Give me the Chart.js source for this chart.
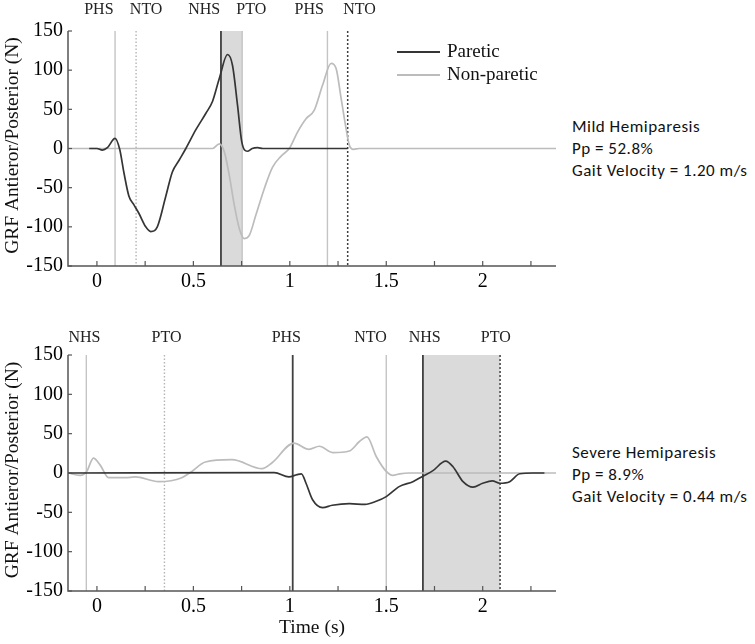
<!DOCTYPE html>
<html><head><meta charset="utf-8">
<script src="https://cdn.jsdelivr.net/npm/chart.js@4.4.1/dist/chart.umd.min.js"></script>
<style>
body{margin:0;background:#fff;width:755px;height:644px;overflow:hidden;position:relative}
.wrap{position:absolute;left:0;width:560px}
#w1{top:0;height:310px}
#w2{top:310px;height:334px}
.note{position:absolute;left:572px;font-family:Carlito, Lato, sans-serif;font-size:17px;line-height:22px;letter-spacing:0.5px;color:#111;white-space:nowrap}
</style></head><body>
<div class="wrap" id="w1"><canvas id="c1"></canvas></div>
<div class="wrap" id="w2"><canvas id="c2"></canvas></div>
<div class="note" style="top:116px">Mild Hemiparesis<br>Pp = 52.8%<br>Gait Velocity = 1.20 m/s</div>
<div class="note" style="top:442px">Severe Hemiparesis<br>Pp = 8.9%<br>Gait Velocity = 0.44 m/s</div>
<script>
// ---- data ----
const seriesNames = ['Paretic', 'Non-paretic'];
const xTicks = [0, 0.25, 0.5, 0.75, 1, 1.25, 1.5, 1.75, 2, 2.25];
const xTickLabels = ['0', '', '0.5', '', '1', '', '1.5', '', '2', ''];
const yTicks = [-150, -100, -50, 0, 50, 100, 150];

// Mild (top)
const topParT = [-0.04, 0.0, 0.028, 0.054, 0.094, 0.118, 0.140, 0.166, 0.192, 0.218, 0.253, 0.279, 0.313, 0.357, 0.391, 0.426, 0.461, 0.513, 0.565, 0.599, 0.634, 0.677, 0.703, 0.729, 0.751, 0.78, 0.805, 0.833, 0.86, 1.30];
const topParV = [0, 0, -2, 1, 13, -1, -31, -61, -72, -83, -100, -106, -100, -61, -30, -15, 0, 24, 45, 60, 89, 120, 106, 55, 8.5, -3.5, 0, 1, 0, 0];
const topNonT = [-0.15, 0.0, 0.3, 0.6, 0.634, 0.66, 0.686, 0.712, 0.738, 0.764, 0.79, 0.824, 0.868, 0.91, 0.954, 0.997, 1.04, 1.084, 1.127, 1.17, 1.214, 1.24, 1.266, 1.292, 1.309, 1.33, 1.36, 2.38];
const topNonV = [0, 0, 0, 0, 6, -4, -34, -72, -102, -115, -111, -85, -51, -24, -10, 0, 21, 38, 49, 81, 108.6, 102, 64, 25, 4, -1, 0, 0];
const topEventT = [0.094, 0.203, 0.643, 0.753, 1.195, 1.30];
const topEventName = ['PHS', 'NTO', 'NHS', 'PTO', 'PHS', 'NTO'];
const topShade = [0.643, 0.753];

// Severe (bottom)
const botParT = [-0.15, 0.92, 0.995, 1.038, 1.06, 1.084, 1.118, 1.17, 1.22, 1.309, 1.39, 1.448, 1.5, 1.569, 1.638, 1.69, 1.742, 1.808, 1.846, 1.898, 1.95, 2.0, 2.05, 2.088, 2.14, 2.192, 2.26, 2.32];
const botParV = [0, 0.5, -5, -2, -1, -13, -34, -44, -41, -39, -40, -36, -30, -17, -11, -4, 3, 15, 8, -11, -18, -13, -10, -13, -11, -1, 0, 0];
const botNonT = [-0.15, -0.087, -0.053, -0.018, 0.017, 0.06, 0.146, 0.198, 0.32, 0.44, 0.492, 0.562, 0.70, 0.856, 0.908, 1.021, 1.099, 1.153, 1.222, 1.309, 1.361, 1.40, 1.448, 1.5, 1.534, 1.57, 1.62, 2.38];
const botNonV = [0, -3, 2, 19, 10, -6, -6, -5, -11, -6, 2, 14, 17, 5.5, 13, 38, 30, 34, 26, 28, 40, 46, 21, 2, -3, -1, 0, 0];
const botEventT = [-0.055, 0.35, 1.015, 1.50, 1.69, 2.09];
const botEventName = ['NHS', 'PTO', 'PHS', 'NTO', 'NHS', 'PTO'];
const botShade = [1.69, 2.09];

// ---- styles (not data) ----
const lineStyles = {
  dark: {c: '#404040', w: 1.8, d: []},
  light: {c: '#c4c4c4', w: 1.4, d: []},
  darkDot: {c: '#404040', w: 1.5, d: [2, 2]},
  lightDot: {c: '#b4b4b4', w: 1.4, d: [1.5, 2]}
};
const topEventKind = ['light', 'lightDot', 'dark', 'light', 'light', 'darkDot'];
const botEventKind = ['light', 'lightDot', 'dark', 'light', 'dark', 'darkDot'];
const topLabelT = [0.01, 0.255, 0.556, 0.80, 1.101, 1.361];
const botLabelT = [-0.065, 0.361, 0.982, 1.418, 1.699, 2.068];
const parColor = '#353535', nonColor = '#bcbcbc';
const serif = "'Liberation Serif', 'Times New Roman', serif";

const pts = (t, v) => t.map((x, i) => ({x, y: v[i]}));

const deco = {
  id: 'deco',
  beforeDatasetsDraw(chart, args, o) {
    const {ctx, chartArea: a, scales: {x}} = chart;
    ctx.save();
    const s0 = x.getPixelForValue(o.shade[0]), s1 = x.getPixelForValue(o.shade[1]);
    ctx.fillStyle = '#dadada';
    ctx.fillRect(s0, a.top, s1 - s0, a.bottom - a.top);
    o.events.forEach((t, i) => {
      const st = lineStyles[o.kinds[i]];
      ctx.strokeStyle = st.c; ctx.lineWidth = st.w; ctx.setLineDash(st.d);
      const px = x.getPixelForValue(t);
      ctx.beginPath(); ctx.moveTo(px, a.top); ctx.lineTo(px, a.bottom); ctx.stroke();
    });
    ctx.restore();
  },
  afterDraw(chart, args, o) {
    const {ctx, chartArea: a, scales: {x, y}} = chart;
    ctx.save();
    // axes
    ctx.strokeStyle = '#555'; ctx.lineWidth = 1.5; ctx.setLineDash([]);
    ctx.beginPath(); ctx.moveTo(a.left, a.top); ctx.lineTo(a.left, a.bottom); ctx.lineTo(a.right, a.bottom); ctx.stroke();
    ctx.lineWidth = 1.2;
    xTicks.forEach(v => {
      const px = x.getPixelForValue(v);
      ctx.beginPath(); ctx.moveTo(px, a.bottom); ctx.lineTo(px, a.bottom - 5); ctx.stroke();
    });
    yTicks.forEach(v => {
      const py = y.getPixelForValue(v);
      ctx.beginPath(); ctx.moveTo(a.left, py); ctx.lineTo(a.left + 4, py); ctx.stroke();
    });
    // event labels
    ctx.fillStyle = '#222'; ctx.font = '16px ' + serif; ctx.textAlign = 'center'; ctx.textBaseline = 'middle';
    o.names.forEach((n, i) => ctx.fillText(n, x.getPixelForValue(o.labelT[i]), o.labelY));
    // y title
    ctx.save();
    ctx.translate(13, (a.top + a.bottom) / 2 - 3);
    ctx.rotate(-Math.PI / 2);
    ctx.font = '19.5px ' + serif; ctx.fillStyle = '#111';
    ctx.fillText('GRF Antieror/Posterior (N)', 0, 0);
    ctx.restore();
    if (o.xTitle) {
      ctx.font = '19.5px ' + serif; ctx.fillStyle = '#111';
      ctx.fillText(o.xTitle, 312, a.bottom + 37);
    }
    if (o.legend) {
      const ds = chart.data.datasets;
      ctx.font = '19px ' + serif; ctx.textAlign = 'left';
      ds.forEach((d, i) => {
        const yy = 52 + i * 23;
        ctx.strokeStyle = d.borderColor; ctx.lineWidth = 1.8;
        ctx.beginPath(); ctx.moveTo(397, yy); ctx.lineTo(440, yy); ctx.stroke();
        ctx.fillStyle = '#111';
        ctx.fillText(d.label, 447, yy);
      });
    }
    ctx.restore();
  }
};

function makeChart(id, parT, parV, nonT, nonV, deco_o, padTop, xH) {
  return new Chart(document.getElementById(id), {
    type: 'line',
    data: {datasets: [
      {label: seriesNames[0], data: pts(parT, parV), borderColor: parColor, borderWidth: 1.7, pointRadius: 0, cubicInterpolationMode: 'monotone', order: 0},
      {label: seriesNames[1], data: pts(nonT, nonV), borderColor: nonColor, borderWidth: 1.7, pointRadius: 0, cubicInterpolationMode: 'monotone', order: 1}
    ]},
    options: {
      responsive: true, maintainAspectRatio: false, animation: false, events: [],
      parsing: false,
      layout: {padding: {top: padTop, right: 4, left: 0, bottom: 0}},
      plugins: {legend: {display: false}, tooltip: {enabled: false}, deco: deco_o},
      scales: {
        x: {type: 'linear', min: -0.15, max: 2.38,
          afterBuildTicks: s => { s.ticks = xTicks.map(v => ({value: v})); },
          afterFit: s => { s.height = xH; },
          ticks: {callback: (v, i) => xTickLabels[i], color: '#000', font: {family: serif, size: 20}, padding: 4, maxRotation: 0, autoSkip: false},
          grid: {display: false, drawTicks: false}, border: {display: false}},
        y: {type: 'linear', min: -150, max: 150,
          afterBuildTicks: s => { s.ticks = yTicks.map(v => ({value: v})); },
          afterFit: s => { s.width = 68; },
          ticks: {callback: (v, i) => String(yTicks[i]), color: '#000', font: {family: serif, size: 20}, padding: 5, autoSkip: false},
          grid: {display: false, drawTicks: false}, border: {display: false}}
      }
    },
    plugins: [deco]
  });
}

makeChart('c1', topParT, topParV, topNonT, topNonV,
  {shade: topShade, events: topEventT, kinds: topEventKind, names: topEventName, labelT: topLabelT, labelY: 10, legend: true}, 31, 44);
makeChart('c2', botParT, botParV, botNonT, botNonV,
  {shade: botShade, events: botEventT, kinds: botEventKind, names: botEventName, labelT: botLabelT, labelY: 28, xTitle: 'Time (s)'}, 45, 53);
</script>
</body></html>
